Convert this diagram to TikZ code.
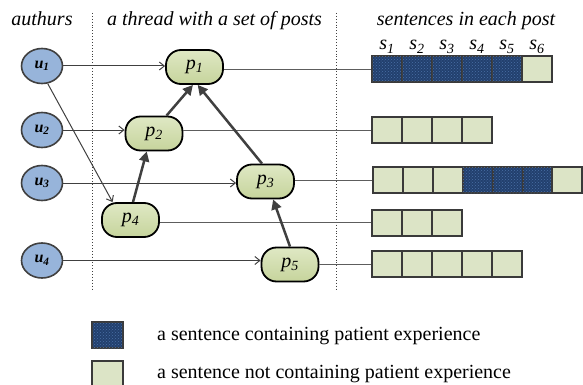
\documentclass[tikz,border=0pt]{standalone}
\usepackage{fontspec}
\setmainfont{Liberation Serif}
\usetikzlibrary{arrows.meta,patterns,calc,shapes.geometric}
\definecolor{linegray}{HTML}{404040}
\definecolor{boxedge}{HTML}{3A3A3A}
\definecolor{navy}{HTML}{22406E}
\definecolor{navydot}{HTML}{4A6FA5}
\definecolor{lightbox}{HTML}{DCE4C6}
\definecolor{posttop}{HTML}{DFE8C4}
\definecolor{postbot}{HTML}{C6D49C}
\definecolor{authfill}{HTML}{97B4DA}
\begin{document}
\begin{tikzpicture}[x=1pt,y=-1pt,
  every node/.style={font=\fontsize{20}{24}\selectfont, inner sep=0pt},
  author/.style={ellipse, draw=linegray, line width=1.6pt, fill=authfill,
    minimum width=41pt, minimum height=35pt, font=\fontsize{16}{18}\selectfont\bfseries\itshape},
  post/.style={rectangle, rounded corners=15pt, draw=black, line width=1.8pt,
    top color=posttop, bottom color=postbot, minimum width=57pt, minimum height=34pt},
  dbox/.style={rectangle, draw=boxedge, line width=2pt, fill=navy,
    postaction={pattern=crosshatch dots, pattern color=navydot},
    minimum width=30pt, minimum height=26pt},
  lbox/.style={rectangle, draw=boxedge, line width=2pt, fill=lightbox,
    minimum width=30pt, minimum height=26pt},
  thinarrow/.style={draw=linegray, line width=1pt, -{Straight Barb[length=5pt,width=8pt]}},
  thickarrow/.style={draw=linegray, line width=2.5pt, -{Triangle[length=10pt,width=10pt]}},
  link/.style={draw=linegray!85, line width=0.9pt},
  divider/.style={draw=linegray, line width=0.9pt, dotted},
  heading/.style={anchor=base, font=\fontsize{20}{24}\selectfont\itshape}
]
\useasboundingbox (0,0) rectangle (583,385);

% headings
\node[heading] (h1) at (42,26) {authurs};
\node[heading] (h2) at (214.5,26) {a thread with a set of posts};
\node[heading] (h3) at (466,26) {sentences in each post};

% dividers
\coordinate (d1t) at (92,13); \coordinate (d1b) at (92,289);
\coordinate (d2t) at (336,13); \coordinate (d2b) at (336,289);
\draw[divider] (d1t) -- (d1b);
\draw[divider] (d2t) -- (d2b);

% authors
\node[author] (u1) at (42,66) {u\textsubscript{1}};
\node[author] (u2) at (42,130) {u\textsubscript{2}};
\node[author] (u3) at (42,183) {u\textsubscript{3}};
\node[author] (u4) at (42,260.5) {u\textsubscript{4}};

% posts
\node[post] (p1) at (194.5,67) {\textit{p}\textsubscript{\textit{1}}};
\node[post] (p2) at (154,133.5) {\textit{p}\textsubscript{\textit{2}}};
\node[post] (p3) at (265.5,181.5) {\textit{p}\textsubscript{\textit{3}}};
\node[post] (p4) at (130.5,220) {\textit{p}\textsubscript{\textit{4}}};
\node[post] (p5) at (290,264.5) {\textit{p}\textsubscript{\textit{5}}};

% sentence rows
\foreach \i/\s in {1/dbox,2/dbox,3/dbox,4/dbox,5/dbox,6/lbox}
  \node[\s] (r1s\i) at ({372+15+30*(\i-1)},69) {};
\foreach \i/\s in {1/lbox,2/lbox,3/lbox,4/lbox}
  \node[\s] (r2s\i) at ({372+15+30*(\i-1)},130) {};
\foreach \i/\s in {1/lbox,2/lbox,3/lbox,4/dbox,5/dbox,6/dbox,7/lbox}
  \node[\s] (r3s\i) at ({373+15+29.9*(\i-1)},180) {};
\foreach \i/\s in {1/lbox,2/lbox,3/lbox}
  \node[\s] (r4s\i) at ({372+15+30*(\i-1)},222.5) {};
\foreach \i/\s in {1/lbox,2/lbox,3/lbox,4/lbox,5/lbox}
  \node[\s] (r5s\i) at ({372+15+30*(\i-1)},264) {};

% sentence labels
\foreach \i in {1,...,6}
  \node[anchor=base, font=\fontsize{20}{24}\selectfont\itshape] (s\i) at ($(r1s\i.center)+(0,-19)$) {s\textsubscript{\i}};

% author -> post
\draw[thinarrow] (u1.east) -- (u1.east -| p1.west);
\draw[thinarrow] (u1.-72) -- (p4.135);
\draw[thinarrow] (u2.east) -- (u2.east -| p2.west);
\draw[thinarrow] (u3.east) -- (u3.east -| p3.west);
\draw[thinarrow] (u4.east) -- (u4.east -| p5.west);

% post -> sentences
\draw[link] (p1.east |- r1s1.west) -- (r1s1.west);
\draw[link] (p2.east |- r2s1.west) -- (r2s1.west);
\draw[link] (p3.east |- r3s1.west) -- (r3s1.west);
\draw[link] (p4.east |- r4s1.west) -- (r4s1.west);
\draw[link] (p5.east |- r5s1.west) -- (r5s1.west);

% reply relations
\draw[thickarrow] (p2.55) -- (p1.265);
\draw[thickarrow] (p3.101) -- (p1.280);
\draw[thickarrow] (p4.82) -- (p2.248);
\draw[thickarrow] (p5.north) -- (p3.293);

% legend
\node[dbox, minimum width=31pt] (ld) at (107.5,335) {};
\node[lbox, minimum width=31pt, minimum height=25pt] (ll) at (107.5,373.5) {};
\node[anchor=base west] (lt1) at (157,340) {a sentence containing patient experience};
\node[anchor=base west] (lt2) at (157,378) {a sentence not containing patient experience};
\end{tikzpicture}
\end{document}
